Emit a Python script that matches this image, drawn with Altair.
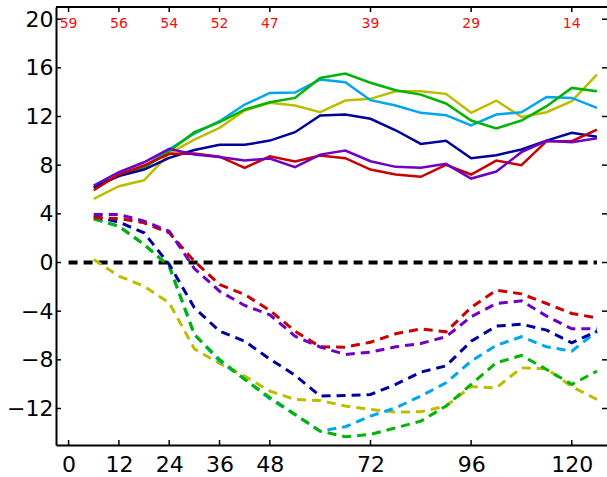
import altair as alt
import pandas as pd

# ---- data ----
x_pts = [6, 12, 18, 24, 30, 36, 42, 48, 54, 60, 66, 72, 78, 84, 90, 96, 102, 108, 114, 120, 126]

solid_yellow = [5.23, 6.27, 6.76, 8.95, 10.1, 11.07, 12.49, 13.12, 12.9, 12.35, 13.31, 13.45, 14.08, 14.08, 13.86, 12.3, 13.31, 11.97, 12.35, 13.26, 15.45]
solid_cyan = [6.1, 7.2, 7.86, 9.3, 10.6, 11.61, 12.98, 13.94, 13.97, 15.04, 14.82, 13.34, 12.9, 12.3, 12.11, 11.26, 12.16, 12.35, 13.61, 13.53, 12.71]
solid_green = [6.13, 7.15, 7.78, 9.15, 10.71, 11.53, 12.57, 13.17, 13.53, 15.17, 15.53, 14.77, 14.16, 13.8, 13.07, 11.67, 11.01, 11.67, 12.85, 14.35, 14.08]
solid_blue = [6.2, 7.1, 7.64, 8.6, 9.25, 9.67, 9.67, 10.02, 10.71, 12.08, 12.16, 11.81, 10.87, 9.75, 10.0, 8.57, 8.82, 9.29, 10.02, 10.66, 10.33]
solid_red = [5.94, 7.23, 7.97, 8.93, 8.96, 8.7, 7.78, 8.73, 8.3, 8.79, 8.57, 7.64, 7.23, 7.04, 8.03, 7.23, 8.38, 8.0, 9.97, 9.97, 10.93]
solid_purple = [6.33, 7.42, 8.24, 9.34, 8.87, 8.68, 8.38, 8.55, 7.83, 8.87, 9.2, 8.32, 7.86, 7.78, 8.11, 6.9, 7.48, 9.07, 10.0, 9.89, 10.21]

dash_yellow = [0.25, -1.12, -1.95, -3.31, -7.1, -8.3, -9.34, -10.57, -11.26, -11.34, -11.8, -12.08, -12.3, -12.27, -11.8, -10.2, -10.3, -8.66, -8.74, -10.2, -11.26]
dash_cyan = [3.6, 2.98, 1.48, -0.3, -5.92, -8.1, -9.6, -11.2, -12.5, -13.86, -13.5, -12.63, -11.94, -10.98, -9.89, -8.11, -6.82, -6.1, -6.93, -7.29, -5.64]
dash_green = [3.59, 2.98, 1.48, -0.3, -5.92, -7.97, -9.6, -11.1, -12.49, -13.86, -14.32, -14.13, -13.59, -13.04, -11.8, -10.02, -8.24, -7.64, -8.79, -10.02, -8.93]
dash_blue = [3.81, 3.32, 2.44, -0.16, -3.72, -5.64, -6.47, -7.94, -9.26, -10.98, -10.93, -10.85, -10.02, -9.01, -8.5, -6.47, -5.23, -5.07, -5.56, -6.6, -5.64]
dash_red = [3.67, 3.62, 3.26, 2.44, 0.1, -1.81, -2.63, -3.94, -5.64, -6.93, -6.96, -6.55, -5.86, -5.45, -5.7, -3.7, -2.27, -2.58, -3.37, -4.19, -4.55]
dash_purple = [3.94, 3.94, 3.4, 2.57, -0.5, -2.36, -3.53, -4.3, -6.05, -6.95, -7.56, -7.37, -6.93, -6.66, -6.1, -4.46, -3.37, -3.15, -4.41, -5.45, -5.45]

zero_x = [0, 126]
zero_y = [0, 0]

ann_x = [0, 12, 24, 36, 48, 72, 96, 120]
ann_text = ["59", "56", "54", "52", "47", "39", "29", "14"]

x_ticks = [0, 12, 24, 36, 48, 72, 96, 120]
y_ticks = [-12, -8, -4, 0, 4, 8, 12, 16, 20]

series_names = ["yellow", "cyan", "green", "blue", "red", "purple"]
series_colors = ["#bdbd00", "#00a6ed", "#00b400", "#00009e", "#c80000", "#7000c4"]

# ---- tables ----
solid_vals = [solid_yellow, solid_cyan, solid_green, solid_blue, solid_red, solid_purple]
dash_vals = [dash_yellow, dash_cyan, dash_green, dash_blue, dash_red, dash_purple]

rows = []
for name, vals in zip(series_names, solid_vals):
    for i, (xv, yv) in enumerate(zip(x_pts, vals)):
        rows.append({"x": xv, "y": yv, "series": name, "ord": i})
solid_df = pd.DataFrame(rows)

rows = []
for name, vals in zip(series_names, dash_vals):
    for i, (xv, yv) in enumerate(zip(x_pts, vals)):
        rows.append({"x": xv, "y": yv, "series": name, "ord": i})
dash_df = pd.DataFrame(rows)

zero_df = pd.DataFrame({"x": zero_x, "y": zero_y})
ann_df = pd.DataFrame({"x": ann_x, "label": ann_text})
xt_df = pd.DataFrame({"x": x_ticks})
yt_df = pd.DataFrame({"y": y_ticks})

W, H = 551, 438
FONT = "DejaVu Sans"

xscale = alt.Scale(domain=[-3, 128.4], nice=False, zero=False)
yscale = alt.Scale(domain=[-15, 21], nice=False, zero=False)

x_axis = alt.Axis(values=x_ticks, title=None, grid=False, domain=True, domainColor="black",
                  domainWidth=2, ticks=False,
                  labelFont=FONT, labelFontSize=22, labelColor="black", labelPadding=9,
                  labelFlush=False, labelOverlap=False)
y_axis = alt.Axis(values=y_ticks, title=None, grid=False, domain=True, domainColor="black",
                  domainWidth=2, ticks=False,
                  labelFont=FONT, labelFontSize=22, labelColor="black", labelPadding=3,
                  labelFlush=False, labelOverlap=False)

X = lambda f: alt.X(f, scale=xscale, axis=x_axis)
Y = lambda f: alt.Y(f, scale=yscale, axis=y_axis)

color = alt.Color("series:N", scale=alt.Scale(domain=series_names, range=series_colors), legend=None)

zero_layer = alt.Chart(zero_df).mark_line(color="black", strokeWidth=4, strokeDash=[9, 6]).encode(
    x=X("x:Q"), y=Y("y:Q"),
)

dash_layer = alt.Chart(dash_df).mark_line(strokeWidth=3, strokeDash=[9, 6]).encode(
    x=X("x:Q"), y=Y("y:Q"), color=color, order="ord:Q",
)

solid_layer = alt.Chart(solid_df).mark_line(strokeWidth=2.5).encode(
    x=X("x:Q"), y=Y("y:Q"), color=color, order="ord:Q",
)

ann_layer = alt.Chart(ann_df).mark_text(color="#f01010", font=FONT, fontSize=14, align="center",
                                         baseline="middle").encode(
    x=X("x:Q"), y=alt.value(17), text="label:N",
)

tick_style = dict(color="black", strokeWidth=1.5)
bottom_ticks = alt.Chart(xt_df).mark_rule(**tick_style).encode(
    x=X("x:Q"), y=alt.value(H), y2=alt.value(H - 5))
top_ticks = alt.Chart(xt_df).mark_rule(**tick_style).encode(
    x=X("x:Q"), y=alt.value(0), y2=alt.value(5))
left_ticks = alt.Chart(yt_df).mark_rule(**tick_style).encode(
    y=Y("y:Q"), x=alt.value(0), x2=alt.value(5))
right_ticks = alt.Chart(yt_df).mark_rule(**tick_style).encode(
    y=Y("y:Q"), x=alt.value(W), x2=alt.value(W - 5))
top_frame = alt.Chart(xt_df).mark_rule(color="black", strokeWidth=2).encode(
    x=alt.value(0), x2=alt.value(W), y=alt.value(0))

chart = alt.layer(
    zero_layer, dash_layer, solid_layer, ann_layer,
    bottom_ticks, top_ticks, left_ticks, right_ticks, top_frame,
).properties(
    width=W, height=H,
    autosize=alt.AutoSizeParams(type="none"),
    padding={"left": 56, "top": 7, "right": 0, "bottom": 32},
    background="white",
).configure_view(
    stroke=None
)

chart.save("out.html", embed_options={"renderer": "svg", "actions": False})
